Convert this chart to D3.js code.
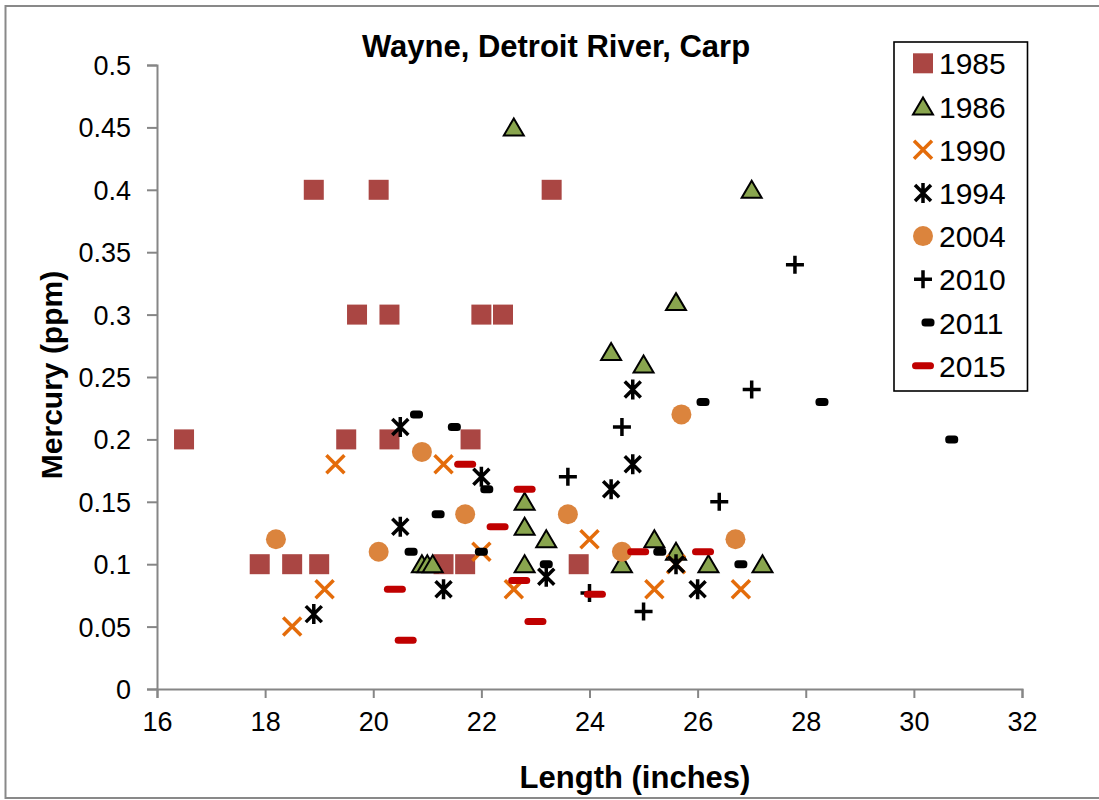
<!DOCTYPE html>
<html><head><meta charset="utf-8">
<script src="https://cdn.jsdelivr.net/npm/d3@7"></script>
<style>body{margin:0;background:#fff}svg{display:block;font-family:Arial,"Liberation Sans",sans-serif}</style>
</head><body>
<svg id="c" width="1099" height="800"></svg>
<script>
const title = "Wayne, Detroit River, Carp";
const xTitle = "Length (inches)";
const yTitle = "Mercury (ppm)";
const xTicks = [16,18,20,22,24,26,28,30,32];
const yTicks = [0,0.05,0.1,0.15,0.2,0.25,0.3,0.35,0.4,0.45,0.5];
const seriesNames = ["1985","1986","1990","1994","2004","2010","2011","2015"];

const s1985 = [[16.5,0.2],[17.9,0.1],[18.5,0.1],[18.9,0.4],[19.0,0.1],[19.5,0.2],[19.7,0.3],[20.1,0.4],[20.3,0.3],[20.3,0.2],[21.3,0.1],[21.7,0.1],[21.8,0.2],[22.0,0.3],[22.4,0.3],[23.3,0.4],[23.8,0.1]];
const s1986 = [[20.9,0.1],[21.0,0.1],[21.1,0.1],[22.6,0.45],[22.8,0.15],[22.8,0.13],[22.8,0.1],[23.2,0.12],[24.4,0.27],[24.6,0.1],[25.0,0.26],[25.2,0.12],[25.6,0.31],[25.6,0.11],[26.2,0.1],[27.0,0.4],[27.2,0.1]];
const s1990 = [[18.5,0.05],[19.1,0.08],[19.3,0.18],[21.3,0.18],[22.0,0.11],[22.6,0.08],[24.0,0.12],[25.2,0.08],[25.6,0.1],[26.8,0.08]];
const s1994 = [[18.9,0.06],[20.5,0.21],[20.5,0.13],[21.3,0.08],[22.0,0.17],[23.2,0.09],[24.4,0.16],[24.8,0.18],[24.8,0.24],[25.6,0.1],[26.0,0.08]];
const s2004 = [[18.2,0.12],[20.1,0.11],[20.9,0.19],[21.7,0.14],[23.6,0.14],[24.6,0.11],[25.7,0.22],[26.7,0.12]];
const s2010 = [[23.6,0.17],[24.0,0.077],[24.6,0.21],[25.0,0.062],[26.4,0.15],[27.0,0.24],[27.8,0.34]];
const s2011 = [[20.7,0.11],[20.8,0.22],[21.2,0.14],[21.5,0.21],[22.0,0.11],[22.1,0.16],[23.2,0.1],[25.3,0.11],[26.1,0.23],[26.8,0.1],[28.3,0.23],[30.7,0.2]];
const s2015 = [[20.4,0.08],[20.6,0.039],[21.7,0.18],[22.3,0.13],[22.7,0.087],[22.8,0.16],[23.0,0.054],[24.1,0.076],[24.9,0.11],[26.1,0.11]];
const seriesData = [s1985,s1986,s1990,s1994,s2004,s2010,s2011,s2015];
const seriesKind = ["square","triangle","x","asterisk","circle","plus","dash","longdash"];
const seriesColor = ["#AA4643","#89A54E","#E46C0A","#000000","#DB843D","#000000","#000000","#C00000"];

const svg = d3.select("#c");
// chart area border
svg.append("rect").attr("x",5.5).attr("y",6).attr("width",1100).attr("height",792)
  .attr("fill","#fff").attr("stroke","#898989").attr("stroke-width",2);

const x = d3.scaleLinear().domain([16,32]).range([157,1022]);
const y = d3.scaleLinear().domain([0,0.5]).range([689,65]);

const fmt = d => String(+d.toFixed(2));
const yAxis = svg.append("g").attr("transform","translate(157,0)")
  .call(d3.axisLeft(y).tickValues(yTicks).tickFormat(fmt).tickSize(10).tickPadding(16));
const xAxis = svg.append("g").attr("transform","translate(0,689)")
  .call(d3.axisBottom(x).tickValues(xTicks).tickFormat(d3.format("d")).tickSize(9).tickPadding(14));
[yAxis,xAxis].forEach(a=>{
  a.selectAll("path.domain").attr("stroke","#868686").attr("stroke-width",2);
  a.selectAll(".tick line").attr("stroke","#868686").attr("stroke-width",2);
  a.selectAll(".tick text").attr("font-size",27).attr("fill","#000").attr("font-family","Arial, 'Liberation Sans', sans-serif");
});
yAxis.selectAll(".tick text").attr("dy","0.35em");

// titles
svg.append("text").attr("x",556).attr("y",57).attr("text-anchor","middle")
  .attr("font-size",31).attr("font-weight","bold").text(title);
svg.append("text").attr("x",635).attr("y",788).attr("text-anchor","middle")
  .attr("font-size",31).attr("font-weight","bold").text(xTitle);
svg.append("text").attr("transform","translate(62,375) rotate(-90)").attr("text-anchor","middle")
  .attr("font-size",30).attr("font-weight","bold").text(yTitle);

function drawMarker(g, kind, color){
  switch(kind){
    case "square": g.append("rect").attr("x",-10).attr("y",-10).attr("width",20).attr("height",20).attr("fill",color); break;
    case "triangle": g.append("path").attr("d","M0,-9L10,8L-10,8Z").attr("fill",color).attr("stroke","#000").attr("stroke-width",2).attr("stroke-linejoin","miter"); break;
    case "x": g.append("path").attr("d","M-9,-9L9,9M-9,9L9,-9").attr("stroke",color).attr("stroke-width",3.5).attr("fill","none"); break;
    case "asterisk": g.append("path").attr("d","M-8,-8L8,8M-8,8L8,-8M0,-10L0,10").attr("stroke",color).attr("stroke-width",3.5).attr("fill","none"); break;
    case "circle": g.append("circle").attr("r",10).attr("fill",color); break;
    case "plus": g.append("path").attr("d","M-9,0L9,0M0,-9L0,9").attr("stroke",color).attr("stroke-width",3.5).attr("fill","none"); break;
    case "dash": g.append("rect").attr("x",-6.5).attr("y",-4).attr("width",13).attr("height",8).attr("rx",3.5).attr("fill",color); break;
    case "longdash": g.append("rect").attr("x",-11).attr("y",-3.5).attr("width",22).attr("height",7).attr("rx",3.5).attr("fill",color); break;
  }
}

seriesData.forEach((data,i)=>{
  const g = svg.append("g");
  data.forEach(p=>{
    const m = g.append("g").attr("transform",`translate(${x(p[0])},${y(p[1])})`);
    drawMarker(m, seriesKind[i], seriesColor[i]);
  });
});

// legend
const lg = svg.append("g");
lg.append("rect").attr("x",894).attr("y",42).attr("width",133.5).attr("height",349)
  .attr("fill","#fff").attr("stroke","#000").attr("stroke-width",1.6);
seriesNames.forEach((n,i)=>{
  const by = 74.3 + i*43.2;
  const mx = seriesKind[i]==="dash" ? 928 : 923;
  const m = lg.append("g").attr("transform",`translate(${mx},${by-11})`);
  drawMarker(m, seriesKind[i], seriesColor[i]);
  lg.append("text").attr("x",939).attr("y",by).attr("font-size",30).text(n);
});
</script>
</body></html>
